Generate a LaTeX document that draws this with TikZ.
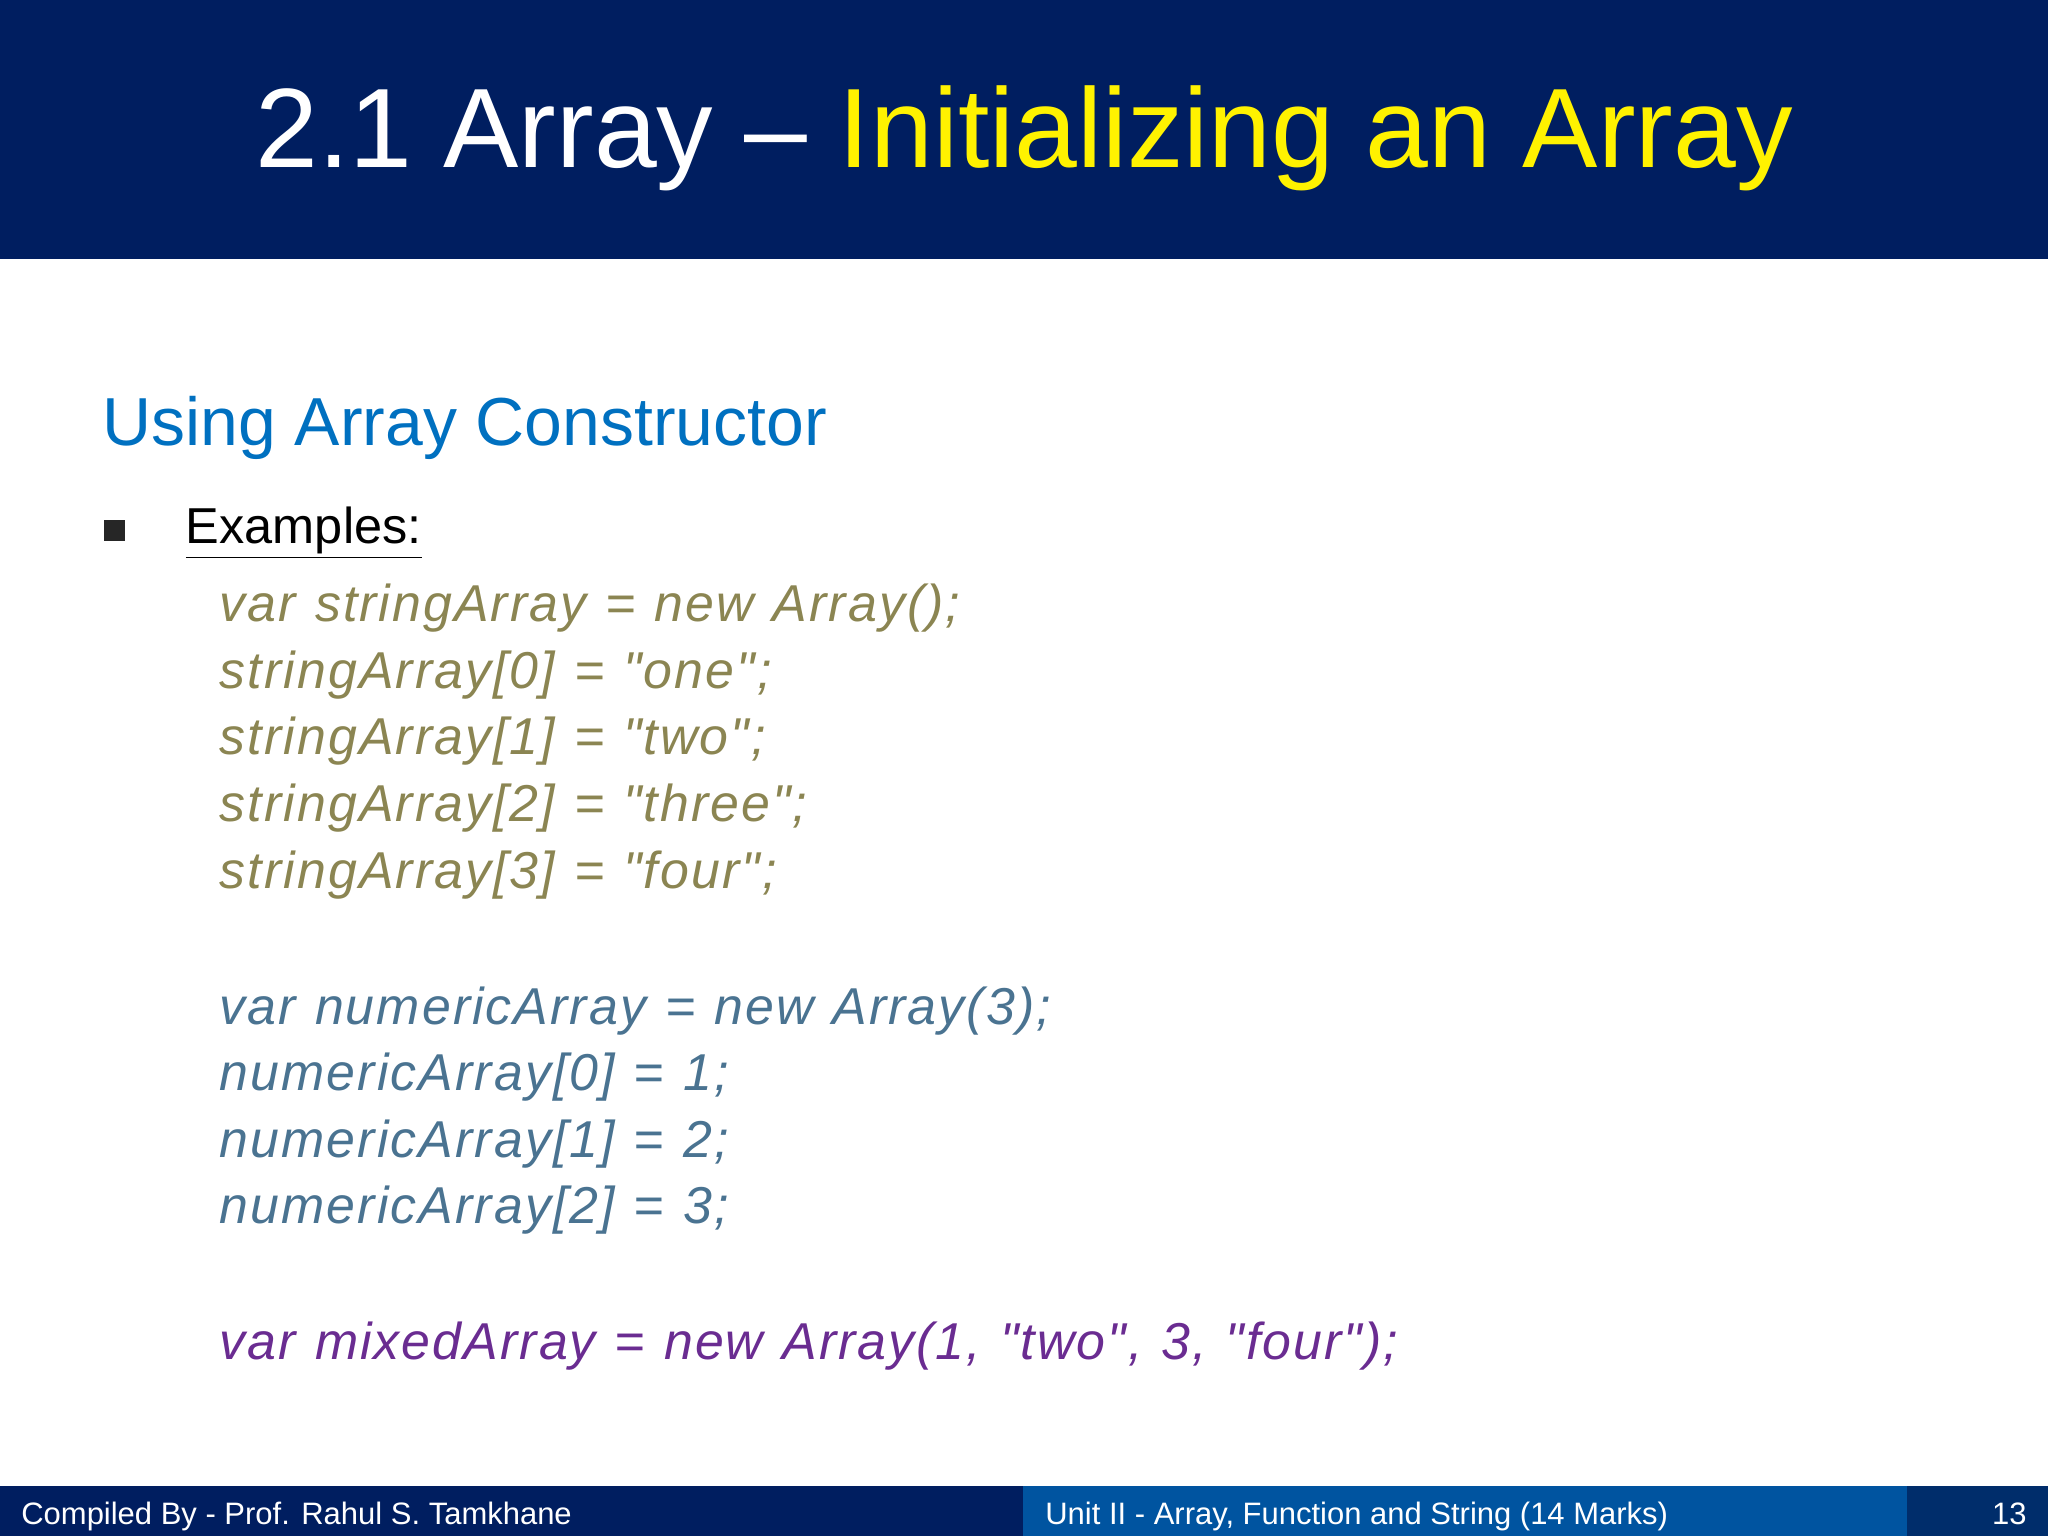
\documentclass[tikz,border=0pt]{standalone}
\usepackage{fontspec}
\setmainfont{Liberation Sans}
\newfontfamily\codefont[LetterSpace=4,WordSpace=1.15]{Liberation Sans}
\usetikzlibrary{positioning}
\definecolor{navy}{RGB}{0,30,96}
\definecolor{subblue}{RGB}{0,112,192}
\definecolor{olivec}{RGB}{139,133,82}
\definecolor{steelc}{RGB}{74,115,145}
\definecolor{purplec}{RGB}{106,44,145}
\definecolor{footblue}{RGB}{0,84,160}
\definecolor{footnavy}{RGB}{0,45,107}
\tikzset{
 codeline/.style={anchor=base west,inner sep=0pt,font=\codefont\itshape\fontsize{22.6}{28}\selectfont},
 foot/.style={anchor=base west,inner sep=0pt,text=white,font=\fontsize{13.5}{16}\selectfont}
}
\begin{document}
\begin{tikzpicture}[x=0.02cm,y=-0.02cm]
\useasboundingbox (0,0) rectangle (1568,1176);
\fill[navy] (0,0) rectangle (1568,198);
\node[anchor=base,inner sep=0pt,font=\fontsize{49.2}{56}\selectfont,text=white] (title) at (784,128) {2.1 Array -- \textcolor{yellow}{Initializing an Array}};
\node[anchor=base west,inner sep=0pt,font=\fontsize{29.6}{36}\selectfont,text=subblue] (sub) at (78,341) {Using Array Constructor};
\fill[black!85] (80,398) rectangle (96,414);
\node[anchor=base west,inner sep=0pt,font=\fontsize{22}{26}\selectfont] (ex) at (142,416) {\underline{Examples:}};
\node[codeline,text=olivec] (s1) at (168,476) {var stringArray = new Array();};
\node[codeline,text=olivec] (s2) at (168,527) {stringArray[0] = "one";};
\node[codeline,text=olivec] (s3) at (168,578) {stringArray[1] = "two";};
\node[codeline,text=olivec] (s4) at (168,629) {stringArray[2] = "three";};
\node[codeline,text=olivec] (s5) at (168,680) {stringArray[3] = "four";};
\node[codeline,text=steelc] (n1) at (168,784) {var numericArray = new Array(3);};
\node[codeline,text=steelc] (n2) at (168,835) {numericArray[0] = 1;};
\node[codeline,text=steelc] (n3) at (168,886) {numericArray[1] = 2;};
\node[codeline,text=steelc] (n4) at (168,937) {numericArray[2] = 3;};
\node[codeline,text=purplec] (m1) at (168,1041) {var mixedArray = new Array(1, "two", 3, "four");};
\fill[navy] (0,1138) rectangle (783,1176);
\fill[footblue] (783,1138) rectangle (1460,1176);
\fill[footnavy] (1460,1138) rectangle (1568,1176);
\node[foot] (f1) at (16,1167) {Compiled By - Prof. Rahul S. Tamkhane};
\node[foot] (f2) at (800,1167) {Unit II - Array, Function and String (14 Marks)};
\node[foot,anchor=base east] (f3) at (1552,1167) {13};
\end{tikzpicture}
\end{document}
